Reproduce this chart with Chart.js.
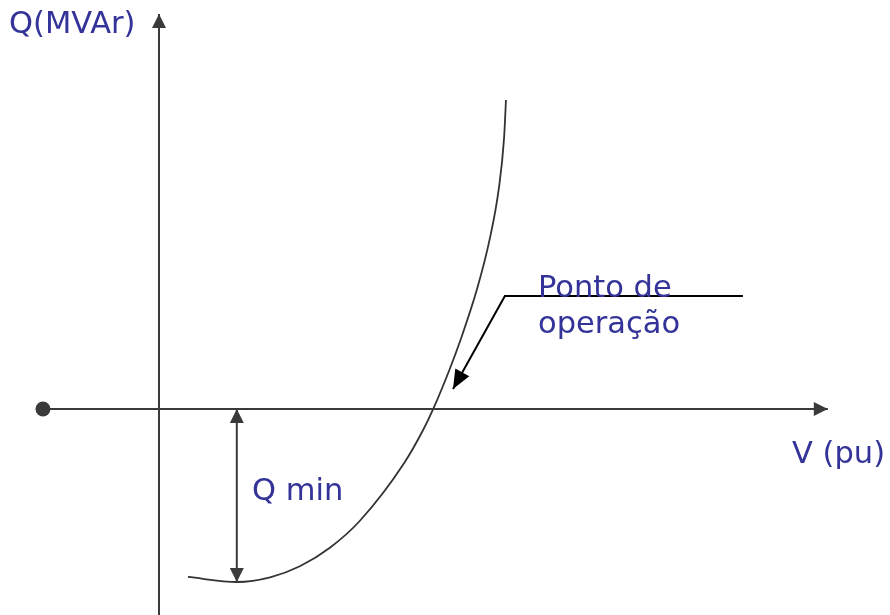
<!DOCTYPE html>
<html>
<head>
<meta charset="utf-8">
<title>Curva Q x V</title>
<script src="https://cdn.jsdelivr.net/npm/chart.js@4.4.1/dist/chart.umd.min.js"></script>
<style>
  html, body { margin: 0; padding: 0; background: #fff; }
  #wrap { width: 890px; height: 615px; }
</style>
</head>
<body>
<div id="wrap"><canvas id="chart" width="890" height="615"></canvas></div>
<script>
// Q-V curve sketch: Q(MVAr) against V(pu), with Qmin and the operating point.

// curve (V in pu, Q scaled so that Qmin = -1)
const curveV = [0.106, 0.286, 0.407, 0.516, 0.626, 0.736, 0.897, 0.967, 1.005, 1.064, 1.106, 1.165, 1.212, 1.245, 1.264, 1.271];
const curveQ = [-0.971, -1.000, -0.973, -0.909, -0.802, -0.646, -0.315, -0.123, 0.002, 0.227, 0.406, 0.693, 0.986, 1.277, 1.566, 1.786];

// axes (drawn as arrows)
const hAxisV = [-0.425, 2.45];
const hAxisQ = [0, 0];
const vAxisV = [0, 0];
const vAxisQ = [-1.20, 2.283];

// Qmin dimension arrow
const qminV = [0.285, 0.285];
const qminQ = [0, -1.0];

// pointer to the operating point
const pointerV = [2.139, 1.267, 1.077];
const pointerQ = [0.653, 0.653, 0.116];

// dot at the left end of the V axis
const dotV = [-0.425];
const dotQ = [0];

const AXIS = "#3a3a3a";
const TEXT = "#333399";
const FONT = "DejaVu Sans";

const pts = (xs, ys) => xs.map((x, i) => ({ x, y: ys[i] }));

function lineSet(xs, ys, color, width, arrow) {
  return {
    data: pts(xs, ys),
    borderColor: color,
    backgroundColor: color,
    borderWidth: width,
    pointRadius: 0,
    tension: 0,
    arrow: arrow,
  };
}

// filled arrowheads at the ends of the datasets that ask for one
const arrowPlugin = {
  id: "arrows",
  afterDatasetsDraw(chart) {
    const ctx = chart.ctx;
    chart.data.datasets.forEach((ds, i) => {
      if (!ds.arrow) return;
      const p = chart.getDatasetMeta(i).data;
      const head = (tip, from) => {
        const a = Math.atan2(tip.y - from.y, tip.x - from.x);
        const len = ds.arrow.len, half = ds.arrow.half;
        ctx.save();
        ctx.fillStyle = ds.borderColor;
        ctx.beginPath();
        ctx.moveTo(tip.x, tip.y);
        ctx.lineTo(tip.x - len * Math.cos(a) + half * Math.sin(a), tip.y - len * Math.sin(a) - half * Math.cos(a));
        ctx.lineTo(tip.x - len * Math.cos(a) - half * Math.sin(a), tip.y - len * Math.sin(a) + half * Math.cos(a));
        ctx.closePath();
        ctx.fill();
        ctx.restore();
      };
      const n = p.length;
      head(p[n - 1], p[n - 2]);
      if (ds.arrow.both) head(p[0], p[1]);
    });
  },
};

// text labels
const labels = [
  { text: "Q(MVAr)",  x: 9,   y: 33 },
  { text: "Ponto de", x: 538, y: 297 },
  { text: "operação", x: 538, y: 333 },
  { text: "V (pu)",   x: 792, y: 463 },
  { text: "Q min",    x: 252, y: 500 },
];

const textPlugin = {
  id: "texts",
  afterDraw(chart) {
    const ctx = chart.ctx;
    ctx.save();
    ctx.fillStyle = TEXT;
    ctx.font = "30.5px '" + FONT + "'";
    ctx.textBaseline = "alphabetic";
    ctx.textAlign = "left";
    labels.forEach(l => ctx.fillText(l.text, l.x, l.y));
    ctx.restore();
  },
};

new Chart(document.getElementById("chart"), {
  type: "line",
  data: {
    datasets: [
      lineSet(hAxisV, hAxisQ, AXIS, 2, { len: 14, half: 7 }),
      lineSet(vAxisV, vAxisQ, AXIS, 2, { len: 14, half: 7 }),
      lineSet(qminV, qminQ, AXIS, 2, { len: 14, half: 7, both: true }),
      lineSet(pointerV, pointerQ, "#000000", 2, { len: 19, half: 8 }),
      {
        data: pts(curveV, curveQ),
        borderColor: "#333333",
        borderWidth: 1.8,
        pointRadius: 0,
        cubicInterpolationMode: "monotone",
      },
      {
        data: pts(dotV, dotQ),
        showLine: false,
        pointRadius: 7.5,
        pointBackgroundColor: AXIS,
        pointBorderWidth: 0,
      },
    ],
  },
  options: {
    responsive: false,
    animation: false,
    devicePixelRatio: 1,
    layout: { padding: 0, autoPadding: false },
    events: [],
    scales: {
      x: { type: "linear", min: -0.5824, max: 2.6777, display: false },
      y: { type: "linear", min: -1.1908, max: 2.3642, display: false },
    },
    plugins: {
      legend: { display: false },
      tooltip: { enabled: false },
    },
  },
  plugins: [arrowPlugin, textPlugin],
});
</script>
</body>
</html>
